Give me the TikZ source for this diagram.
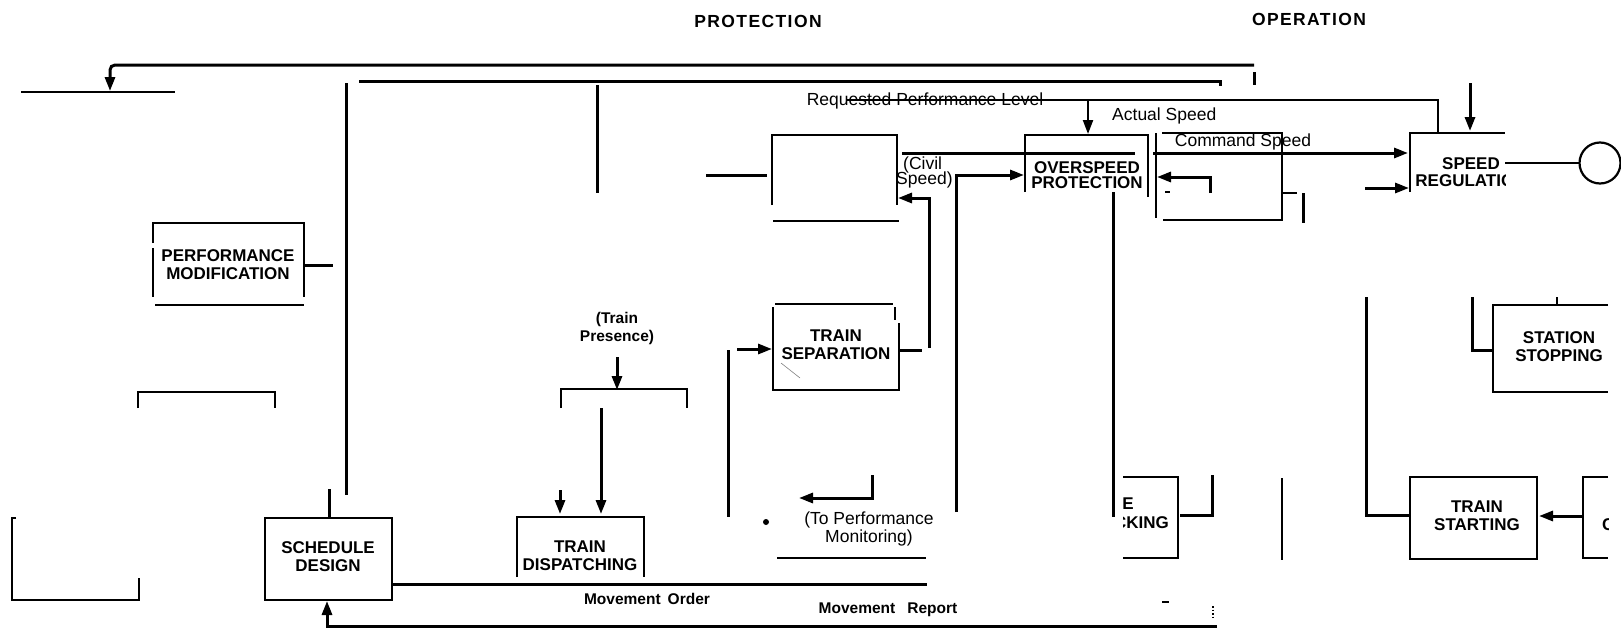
\documentclass[tikz,border=0pt]{standalone}
\usepackage{fontspec}
\setmainfont{Liberation Sans}
\newfontfamily\titlefont[LetterSpace=8]{Liberation Sans}
\usetikzlibrary{arrows.meta}
\tikzset{
  heavy/.style={line width=3pt},
  med/.style={line width=2.2pt},
  thin/.style={line width=1.5pt},
  arr/.style={-{Triangle[length=14pt,width=10pt]}},
  boxlab/.style={font=\fontsize{17}{18}\selectfont\bfseries, align=center, inner sep=0pt},
  title/.style={font=\titlefont\fontsize{17.5}{20}\selectfont\bfseries, inner sep=0pt},
  txt/.style={font=\fontsize{17.5}{19}\selectfont, inner sep=0pt},
  sml/.style={font=\fontsize{15.5}{18}\selectfont\bfseries, align=center, inner sep=0pt},
}
\begin{document}
\begin{tikzpicture}[x=1pt,y=-1pt]
\path[use as bounding box] (0,0) rectangle (1621,629);

% titles
\node[title] (prot) at (758,21) {PROTECTION};
\node[title] (oper) at (1309,19) {OPERATION};

% top long feedback line
\draw[heavy,arr,rounded corners=5pt] (1254,65) -- (110,65) -- (110,91);
\draw[thin] (21,92) -- (175,92);
\draw[heavy] (1254,72) -- (1254,85);
\draw[heavy] (359,81) -- (1220,81) -- (1220,86);

% left verticals
\draw[heavy] (346,83) -- (346,495);
\draw[heavy] (597,85) -- (597,193);

% performance modification
\draw[med] (153,243) -- (153,223) -- (304,223) -- (304,297);
\draw[med] (153,248) -- (153,297);
\draw[med] (155,305) -- (304,305);
\node[boxlab] (pm) at (228,265) {PERFORMANCE\\MODIFICATION};
\draw[heavy] (305,265) -- (333,265);

% open brackets
\draw[thin] (138,408) -- (138,392) -- (275,392) -- (275,408);
\draw[med] (16,518) -- (12,518) -- (12,600) -- (139,600) -- (139,578);

% schedule design
\draw[med] (265,518) rectangle (392,600);
\node[boxlab] (sd) at (328,557) {SCHEDULE\\DESIGN};
\draw[heavy] (329,489) -- (329,518);
\draw[heavy] (392,584) -- (927,584);
\node[sml] (mo) at (647,599) {Movement\hspace{7pt}Order};
\draw[heavy,arr] (1217,626) -- (327,626) -- (327,601);
\draw[thin,dotted] (1213,606) -- (1213,620);
\draw[thin] (1162,602) -- (1169,602);
\node[sml] (mr) at (888,610) {Movement\hspace{12pt}Report};

% train presence / dispatching
\node[sml] (tp) at (617,328) {(Train\\Presence)};
\draw[heavy,arr] (617,357) -- (617,390);
\draw[med] (561,408) -- (561,389) -- (687,389) -- (687,408);
\draw[heavy,arr] (601,408) -- (601,514);
\draw[heavy,arr] (560,490) -- (560,514);
\draw[med] (517,577) -- (517,517) -- (644,517) -- (644,577);
\node[boxlab] (td) at (580,556) {TRAIN\\DISPATCHING};

% train separation
\draw[heavy] (728,350) -- (728,517);
\draw[heavy,arr] (737,349) -- (772,349);
\draw[med] (775,304) -- (893,304);
\draw[med] (773,307) -- (773,390) -- (899,390) -- (899,323);
\draw[thin] (895,307) -- (895,320);
\draw[line width=0.6pt,gray] (781,363) -- (800,378);
\node[boxlab] (ts) at (836,345) {TRAIN\\SEPARATION};
\draw[heavy] (899,350) -- (922,350);
\draw[heavy,arr] (929,348) -- (929,198) -- (898,198);

% empty box
\draw[med] (772,205) -- (772,135) -- (897,135) -- (897,205);
\draw[thin] (773,221) -- (899,221);
\draw[heavy] (706,175) -- (767,175);

% civil speed
\draw[heavy] (902,153) -- (1135,153);
\node[txt,anchor=west] (cv1) at (903,165) {(Civil};
\node[txt,anchor=west] (cv2) at (896,180) {Speed)};
\draw[heavy,arr] (956,512) -- (956,175) -- (1024,175);

% requested performance level
\node[txt] (rpl) at (925,101) {Requested Performance Level};
\draw[med] (847,100) -- (1438,100) -- (1438,133);
\draw[med,arr] (1088,100) -- (1088,134);
\node[txt,anchor=west] (as) at (1112,116) {Actual Speed};

% overspeed protection
\draw[med] (1025,192) -- (1025,135) -- (1148,135) -- (1148,197);
\node[boxlab,font=\fontsize{17}{15}\selectfont\bfseries] (op) at (1087,175) {OVERSPEED\\PROTECTION};
\draw[heavy] (1113,192) -- (1113,517);

% right partial box
\draw[thin] (1156,133) -- (1156,218);
\draw[thin] (1162,133) -- (1282,133) -- (1282,220) -- (1163,220);
\draw[thin] (1283,193) -- (1297,193);
\draw[heavy] (1303,193) -- (1303,223);
\draw[heavy,arr] (1210,193) -- (1210,177) -- (1157,177);
\draw[thin] (1165,192) -- (1170,192);

% command speed
\draw[heavy,arr] (1153,153) -- (1408,153);
\node[txt] (cs) at (1243,142) {Command Speed};

% speed regulation
\draw[med] (1410,192) -- (1410,133) -- (1505,133);
\draw[heavy,arr] (1470,83) -- (1470,131);
\draw[heavy,arr] (1365,188) -- (1409,188);
\begin{scope}
  \clip (1400,120) rectangle (1505,200);
  \node[boxlab,font=\fontsize{17}{17}\selectfont\bfseries] (sr) at (1471,172) {SPEED\\REGULATION};
\end{scope}
\draw[med] (1505,163) -- (1579,163);
\draw[med] (1600,163) circle (20.5);

% checking box
\draw[med] (1123,477) -- (1178,477) -- (1178,558) -- (1123,558);
\begin{scope}
  \clip (1123,490) rectangle (1180,540);
  \node[boxlab,anchor=east] (ck1) at (1134,504) {E};
  \node[boxlab,anchor=east] (ck2) at (1169,523) {CKING};
\end{scope}
\draw[heavy] (1180,515) -- (1212,515) -- (1212,475);

% to performance monitoring
\draw[heavy,arr] (872,475) -- (872,498) -- (799,498);
\node[txt] (tpm1) at (869,520) {(To Performance};
\node[txt] (tpm2) at (869,538) {Monitoring)};
\draw[thin] (777,558) -- (926,558);
\fill (766,522) circle (3);

% station stopping / train starting
\draw[thin] (1282,478) -- (1282,560);
\draw[heavy] (1366,297) -- (1366,515) -- (1410,515);
\draw[med] (1410,477) rectangle (1537,559);
\node[boxlab] (tst) at (1477,516) {TRAIN\\STARTING};
\draw[heavy,arr] (1583,516) -- (1539,516);
\draw[med] (1608,477) -- (1583,477) -- (1583,558) -- (1608,558);
\begin{scope}
  \clip (1583,470) rectangle (1608,565);
  \node[boxlab,anchor=west] (cc) at (1602,525) {C};
\end{scope}
\draw[med] (1608,305) -- (1493,305) -- (1493,392) -- (1608,392);
\draw[thin] (1557,297) -- (1557,304);
\node[boxlab] (ss) at (1559,347) {STATION\\STOPPING};
\draw[heavy] (1472,297) -- (1472,350) -- (1493,350);
\end{tikzpicture}
\end{document}
